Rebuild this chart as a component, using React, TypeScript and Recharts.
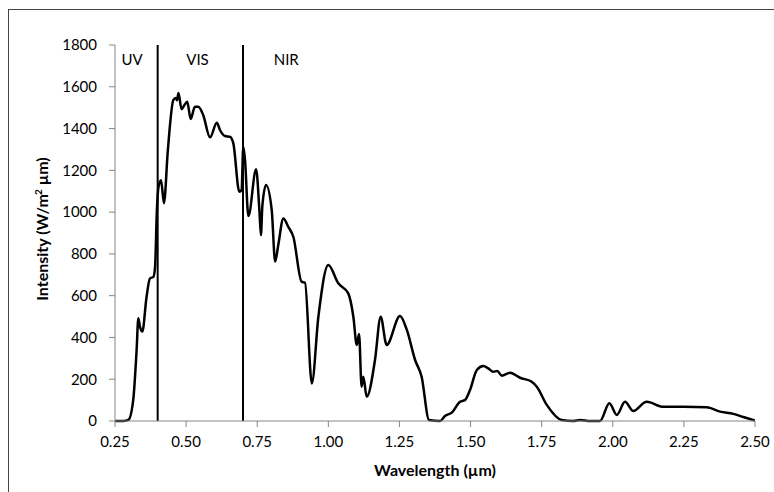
import React from 'react';
import { LineChart, Line, XAxis, YAxis, ReferenceLine, ReferenceDot } from 'recharts';

const wavelengths = [
  0.25, 0.28, 0.297, 0.314, 0.326, 0.332, 0.338, 0.346, 0.361, 0.373, 0.385, 0.391, 0.397, 0.403,
  0.412, 0.422, 0.436, 0.455, 0.464, 0.468, 0.473, 0.484, 0.493, 0.504, 0.516, 0.531, 0.543, 0.56,
  0.584, 0.608, 0.619, 0.637, 0.654, 0.666, 0.687, 0.695, 0.701, 0.707, 0.719, 0.746, 0.758, 0.763,
  0.768, 0.781, 0.801, 0.813, 0.824, 0.842, 0.859, 0.877, 0.906, 0.918, 0.942, 0.965, 1.0, 1.035,
  1.07, 1.088, 1.1, 1.108, 1.117, 1.123, 1.135, 1.164, 1.184, 1.205, 1.252, 1.276, 1.305, 1.328,
  1.354, 1.393, 1.41, 1.434, 1.463, 1.48, 1.498, 1.522, 1.545, 1.562, 1.58, 1.594, 1.61, 1.639,
  1.674, 1.715, 1.733, 1.768, 1.82, 1.861, 1.885, 1.92, 1.955, 1.988, 2.014, 2.043, 2.072, 2.119,
  2.178, 2.248, 2.33, 2.377, 2.424, 2.459, 2.5,
];

const intensities = [
  0, 0, 5, 100, 340, 492, 450, 428, 595, 683, 690, 740, 1000, 1121,
  1153, 1043, 1300, 1536, 1546, 1535, 1570, 1493, 1510, 1528, 1446, 1504, 1504, 1465,
  1358, 1428, 1393, 1364, 1361, 1329, 1098, 1106, 1313, 1250, 981, 1205, 1000, 890,
  1029, 1130, 1010, 763, 843, 970, 930, 882, 667, 662, 180, 499, 747, 659,
  611, 499, 364, 416, 164, 212, 116, 292, 499, 364, 503, 436, 292, 212,
  5, 0, 24, 40, 92, 100, 148, 244, 263, 252, 236, 239, 217, 231,
  207, 188, 164, 77, 5, 0, 5, 0, 0, 85, 29, 92, 48, 92,
  68, 68, 66, 45, 34, 19, 2,
];

const xTicks = [0.25, 0.5, 0.75, 1.0, 1.25, 1.5, 1.75, 2.0, 2.25, 2.5];
const yTicks = [0, 200, 400, 600, 800, 1000, 1200, 1400, 1600, 1800];
const bandEdges = [0.4, 0.7];
const bandLabels = [
  { name: 'UV', x: 0.31, y: 1728 },
  { name: 'VIS', x: 0.54, y: 1728 },
  { name: 'NIR', x: 0.852, y: 1728 },
];

const data = wavelengths.map((w, i) => ({ w, v: intensities[i] }));

const FONT = 'Lato, "Open Sans", sans-serif';
const AXIS_COLOR = '#868686';

export default function App() {
  return (
    <div style={{ position: 'absolute', left: 0, top: 0, width: 774, height: 492, background: '#fff' }}>
      <div
        style={{
          position: 'absolute',
          left: 8,
          top: 9,
          width: 766,
          height: 483,
          borderTop: '1.5px solid #444',
          borderLeft: '1px solid #444',
          boxSizing: 'border-box',
        }}
      />
      <div style={{ position: 'absolute', left: 0, top: 0 }}>
        <LineChart
          width={774}
          height={492}
          data={data}
          margin={{ top: 45, right: 19, bottom: 0, left: 0 }}
          style={{ fontFamily: FONT }}
        >
          <XAxis
            dataKey="w"
            type="number"
            domain={[0.25, 2.5]}
            ticks={xTicks}
            tickFormatter={(v: number) => v.toFixed(2)}
            allowDataOverflow
            height={71}
            stroke={AXIS_COLOR}
            tickSize={6}
            tickMargin={9}
            tick={{ fill: '#000', fontSize: 15, fontFamily: FONT }}
            label={{
              content: (props: any) => {
                const vb = props.viewBox;
                return (
                  <text
                    x={vb.x + vb.width / 2}
                    y={vb.y + 55}
                    textAnchor="middle"
                    fontSize={16}
                    fontWeight="bold"
                    fontFamily={FONT}
                    fill="#000"
                  >
                    Wavelength (µm)
                  </text>
                );
              },
            }}
          />
          <YAxis
            type="number"
            domain={[0, 1800]}
            ticks={yTicks}
            width={115}
            stroke={AXIS_COLOR}
            tickSize={6}
            tickMargin={12}
            tick={{ fill: '#000', fontSize: 15, fontFamily: FONT }}
            label={{
              content: (props: any) => {
                const vb = props.viewBox;
                const cx = vb.x + 48;
                const cy = vb.y + vb.height / 2 - 4;
                return (
                  <text
                    x={cx}
                    y={cy}
                    transform={`rotate(-90 ${cx} ${cy})`}
                    textAnchor="middle"
                    fontSize={16}
                    fontWeight="bold"
                    fontFamily={FONT}
                    fill="#000"
                  >
                    <tspan>Intensity (W/m</tspan>
                    <tspan dx={-1} dy={-6} fontSize={10}>2</tspan>
                    <tspan dy={6}>{' µm)'}</tspan>
                  </text>
                );
              },
            }}
          />
          {bandEdges.map((x) => (
            <ReferenceLine key={x} x={x} stroke="#000" strokeWidth={2} />
          ))}
          {bandLabels.map((b) => (
            <ReferenceDot
              key={b.name}
              x={b.x}
              y={b.y}
              r={0}
              stroke="none"
              fill="none"
              label={{ value: b.name, position: 'center', fill: '#000', fontSize: 15, fontFamily: FONT }}
            />
          ))}
          <Line
            type="monotone"
            dataKey="v"
            stroke="#000"
            strokeWidth={2.5}
            dot={false}
            isAnimationActive={false}
          />
        </LineChart>
      </div>
    </div>
  );
}
